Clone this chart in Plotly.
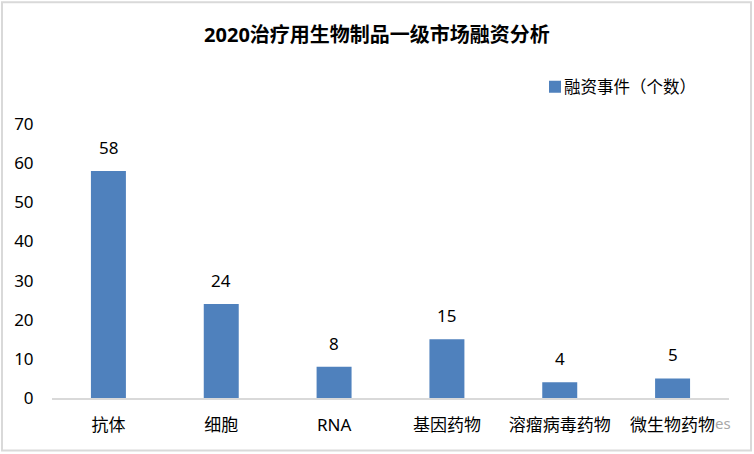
import plotly.graph_objects as go

categories = ["抗体", "细胞", "RNA", "基因药物", "溶瘤病毒药物", "微生物药物"]
values = [58, 24, 8, 15, 4, 5]
series_name = "融资事件（个数）"
title_text = "2020治疗用生物制品一级市场融资分析"
y_ticks = [0, 10, 20, 30, 40, 50, 60, 70]

W, H = 754, 454
L, R, T, B = 52, 25, 124, 55.5
FONT = "Noto Sans, Noto Sans CJK SC, sans-serif"
PW, PH = W - L - R, H - T - B

fig = go.Figure()
fig.add_trace(go.Bar(
    x=categories, y=values, name=series_name,
    marker=dict(color="#4F81BD", line=dict(width=0)),
    width=0.31,
    cliponaxis=False,
    showlegend=True,
))
# Data labels, raised above the bars by the same gap as the reference
for c, v in zip(categories, values):
    fig.add_annotation(x=c, y=v, text=str(v), showarrow=False, yanchor="bottom", yshift=10,
                       font=dict(size=17, color="#000000", family=FONT))
# Watermark remnant beside the last category label
fig.add_annotation(xref="paper", yref="paper", x=(723 - L) / PW, y=1 + (T - 424) / PH,
                   xanchor="center", yanchor="middle",
                   text="es", showarrow=False, font=dict(size=15, color="#A8A8A8", family=FONT))
fig.update_layout(
    width=W, height=H, autosize=False,
    margin=dict(l=L, r=R, t=T, b=B, pad=0),
    paper_bgcolor="#FFFFFF", plot_bgcolor="#FFFFFF",
    title=dict(text="<b>" + title_text + "</b>", x=377 / W, xanchor="center",
               y=1 - 35 / H, yanchor="middle",
               font=dict(size=20, color="#000000", family=FONT)),
    legend=dict(x=(524 - L) / PW, xanchor="left",
                y=1 + (T - 87) / PH, yanchor="middle",
                orientation="h", bgcolor="rgba(0,0,0,0)",
                itemwidth=30, font=dict(size=16.5, color="#000000", family=FONT)),
    xaxis=dict(type="category", showgrid=False, showline=True, linecolor="#D9D9D9",
               linewidth=2, ticks="outside", ticklen=10.5, tickcolor="#FFFFFF", tickwidth=1,
               tickfont=dict(size=17, color="#000000", family=FONT), fixedrange=True),
    yaxis=dict(range=[0, 70], tickvals=y_ticks, showgrid=False, showline=False,
               zeroline=False, ticks="outside", ticklen=14, tickcolor="#FFFFFF", tickwidth=1,
               tickfont=dict(size=17, color="#000000", family=FONT), fixedrange=True),
    shapes=[dict(type="rect", xref="paper", yref="paper",
                 x0=(2 - L) / PW, x1=(751 - L) / PW,
                 y0=1 + (T - 451) / PH, y1=1 + (T - 2) / PH,
                 line=dict(color="#D9D9D9", width=2), fillcolor="rgba(0,0,0,0)", layer="below")],
)
post = """
document.body.style.margin = '0';
document.querySelectorAll('.legendpoints').forEach(function (g) {
  g.setAttribute('transform', 'translate(11,0)');
});
"""
fig.write_html("out.html", post_script=post, config={"displayModeBar": False})
